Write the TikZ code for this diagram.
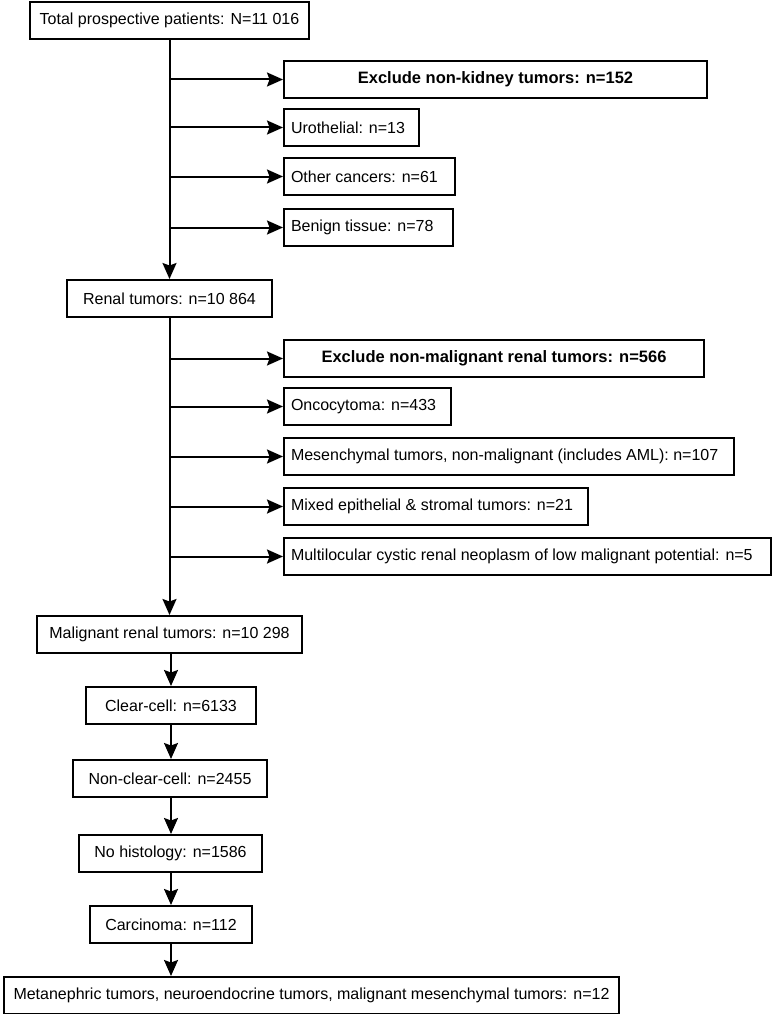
\documentclass[tikz,border=0pt]{standalone}
\usepackage{fontspec}
\setmainfont{Liberation Sans}
\usetikzlibrary{arrows.meta}
\newcommand\lbx[2]{\makebox[#1][l]{#2}}
\begin{document}
\begin{tikzpicture}[x=1pt,y=-1pt,
  box/.style={draw, line width=2pt, inner sep=0pt, minimum height=37pt,
    font=\fontsize{16}{18}\selectfont, anchor=north west},
  lbox/.style={box, inner xsep=7pt},
  bbox/.style={box, font=\fontsize{16.5}{18}\selectfont\bfseries},
  arr/.style={line width=2pt, -{Stealth[length=16pt,width=14pt,inset=2.5pt,fill=black]}}]
\useasboundingbox (0,0) rectangle (772,1014);
% main column
\node[box, minimum width=279pt] (total) at (29,1) {Total prospective patients: N=11 016};
\node[box, minimum width=205pt] (renal) at (66,279) {Renal tumors: n=10 864};
\node[box, minimum width=265pt] (malig) at (36,615) {Malignant renal tumors: n=10 298};
\node[box, minimum width=170pt] (clear) at (85,686) {Clear-cell: n=6133};
\node[box, minimum width=194pt] (nonclear) at (72,759) {Non-clear-cell: n=2455};
\node[box, minimum width=183pt] (nohist) at (78,834) {No histology: n=1586};
\node[box, minimum width=162pt] (carc) at (89,905) {Carcinoma: n=112};
\node[box, minimum width=615pt] (meta) at (3,976) {Metanephric tumors, neuroendocrine tumors, malignant mesenchymal tumors: n=12};
% first exclusion group
\node[bbox, minimum width=423pt] (ex1) at (283,60) {Exclude non-kidney tumors: n=152};
\node[lbox] (uro) at (283,108) {\lbx{121pt}{Urothelial: n=13}};
\node[lbox] (oth) at (283,157) {\lbx{157pt}{Other cancers: n=61}};
\node[lbox] (ben) at (283,208) {\lbx{155pt}{Benign tissue: n=78}};
% second exclusion group
\node[bbox, minimum width=420pt] (ex2) at (283,339) {Exclude non-malignant renal tumors: n=566};
\node[lbox] (onco) at (283,387) {\lbx{153pt}{Oncocytoma: n=433}};
\node[lbox] (mes) at (283,437) {\lbx{436pt}{Mesenchymal tumors, non-malignant (includes AML): n=107}};
\node[lbox] (mix) at (283,487) {\lbx{290pt}{Mixed epithelial \& stromal tumors: n=21}};
\node[lbox] (mult) at (283,537) {\lbx{473pt}{Multilocular cystic renal neoplasm of low malignant potential: n=5}};
% trunk arrows
\draw[arr] (total.south) -- (renal.north);
\draw[arr] (renal.south) -- (renal.south |- malig.north);
\draw[arr] (malig.south -| clear.north) -- (clear.north);
\draw[arr] (clear.south) -- (clear.south |- nonclear.north);
\draw[arr] (nonclear.south -| clear.south) -- (clear.south |- nohist.north);
\draw[arr] (nohist.south -| clear.south) -- (clear.south |- carc.north);
\draw[arr] (carc.south -| clear.south) -- (clear.south |- meta.north);
% side arrows
\foreach \n in {ex1,uro,oth,ben}{
  \draw[arr] (total.south |- \n.west) -- (\n.west);
}
\foreach \n in {ex2,onco,mes,mix,mult}{
  \draw[arr] (renal.south |- \n.west) -- (\n.west);
}
\end{tikzpicture}
\end{document}
